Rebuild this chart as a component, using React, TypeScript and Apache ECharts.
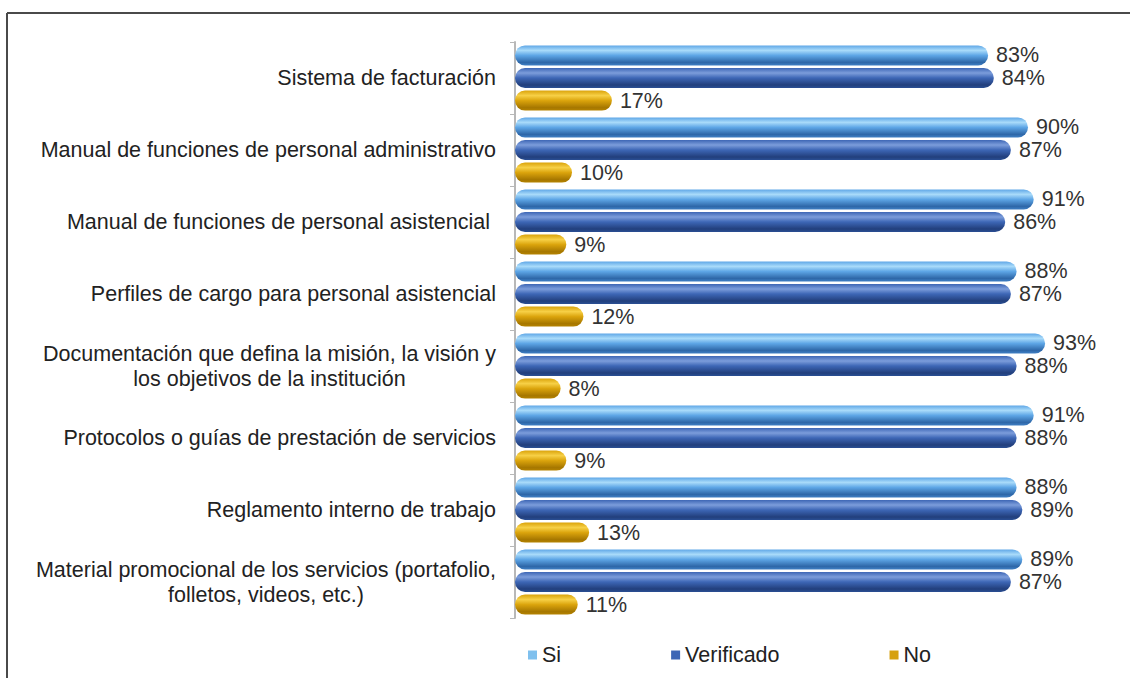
import React, { useEffect, useRef } from "react";
import * as echarts from "echarts";

const categories: string[] = [
  "Sistema de facturación",
  "Manual de funciones de personal administrativo",
  "Manual de funciones de personal asistencial ",
  "Perfiles de cargo para personal asistencial",
  "Documentación que defina la misión, la visión y\nlos objetivos de la institución",
  "Protocolos o guías de prestación de servicios",
  "Reglamento interno de trabajo",
  "Material promocional de los servicios (portafolio,\nfolletos, videos, etc.)",
];

const siValues: number[] = [83, 90, 91, 88, 93, 91, 88, 89];
const verificadoValues: number[] = [84, 87, 86, 87, 88, 88, 89, 87];
const noValues: number[] = [17, 10, 9, 12, 8, 9, 13, 11];

const seriesNames: string[] = ["Si", "Verificado", "No"];

const FONT = "'Liberation Sans', Arial, sans-serif";
const FS = 21.5;

function measure(text: string): number {
  const c = document.createElement("canvas");
  const ctx = c.getContext("2d");
  if (!ctx) return text.length * FS * 0.5;
  ctx.font = `${FS}px ${FONT}`;
  return ctx.measureText(text).width;
}

function grad(top: string, hi: string, mid: string, bottom: string) {
  return new echarts.graphic.LinearGradient(0, 0, 0, 1, [
    { offset: 0, color: mid },
    { offset: 0.25, color: hi },
    { offset: 0.5, color: mid },
    { offset: 0.85, color: bottom },
    { offset: 1, color: top },
  ]);
}

export default function App() {
  const ref = useRef<HTMLDivElement>(null);
  useEffect(() => {
    if (!ref.current) return;
    const chart = echarts.init(ref.current, undefined, { renderer: "svg" });

    const rich: Record<string, any> = {};
    categories.forEach((c, i) => {
      const lines = c.split("\n");
      const w = Math.max(...lines.map(measure)) + 2;
      rich["c" + i] = {
        width: w,
        align: "center",
        fontSize: FS,
        fontFamily: FONT,
        color: "#222222",
        lineHeight: 25,
      };
    });

    const colors = [
      grad("#3f7fc4", "#a9dbfa", "#5ea6e6", "#2e67a8"),
      grad("#2a4f94", "#7c9ddb", "#3d66b5", "#223f7c"),
      grad("#b58300", "#f7d046", "#dba40c", "#a67700"),
    ];
    const legendColors = ["#7fc0ee", "#3d66b5", "#d6a10e"];
    const datas = [siValues, verificadoValues, noValues];

    chart.setOption({
      animation: false,
      backgroundColor: "#ffffff",
      grid: { left: 515, right: 45, top: 42, bottom: 60, containLabel: false },
      legend: {
        left: 523,
        top: 639,
        icon: "rect",
        itemWidth: 9,
        itemHeight: 9,
        itemGap: 110,
        textStyle: { fontSize: FS, fontFamily: FONT, color: "#222222" },
        data: seriesNames.map((n, i) => ({ name: n, itemStyle: { color: legendColors[i] } })),
      },
      xAxis: {
        type: "value",
        min: 0,
        max: 100,
        show: false,
      },
      yAxis: {
        type: "category",
        inverse: true,
        data: categories,
        axisLine: { show: true, lineStyle: { color: "#b8b8b8", width: 2 } },
        axisTick: { show: true, length: 5, lineStyle: { color: "#b8b8b8" } },
        axisLabel: {
          margin: 18,
          align: "right",
          fontSize: FS,
          fontFamily: FONT,
          color: "#222222",
          formatter: (v: string) => {
            const i = categories.indexOf(v);
            return v
              .split("\n")
              .map((l) => `{c${i}|${l}}`)
              .join("\n");
          },
          rich,
        },
        splitLine: { show: false },
      },
      series: seriesNames.map((n, i) => ({
        name: n,
        type: "bar",
        data: datas[i],
        barWidth: 20,
        barGap: "13%",
        itemStyle: {
          color: colors[i],
          borderRadius: 10,
        },
        label: {
          show: true,
          position: "right",
          distance: 8,
          formatter: "{c}%",
          fontSize: FS,
          fontFamily: FONT,
          color: "#333333",
        },
      })),
      graphic: [
        {
          type: "line",
          shape: { x1: 7, y1: 13, x2: 1130, y2: 13 },
          style: { stroke: "#4a4a4a", lineWidth: 2 },
        },
        {
          type: "line",
          shape: { x1: 7, y1: 13, x2: 7, y2: 678 },
          style: { stroke: "#4a4a4a", lineWidth: 2 },
        },
      ],
    });
    return () => chart.dispose();
  }, []);
  return (
    <div
      ref={ref}
      style={{ position: "fixed", left: 0, top: 0, width: 1130, height: 678 }}
    />
  );
}
